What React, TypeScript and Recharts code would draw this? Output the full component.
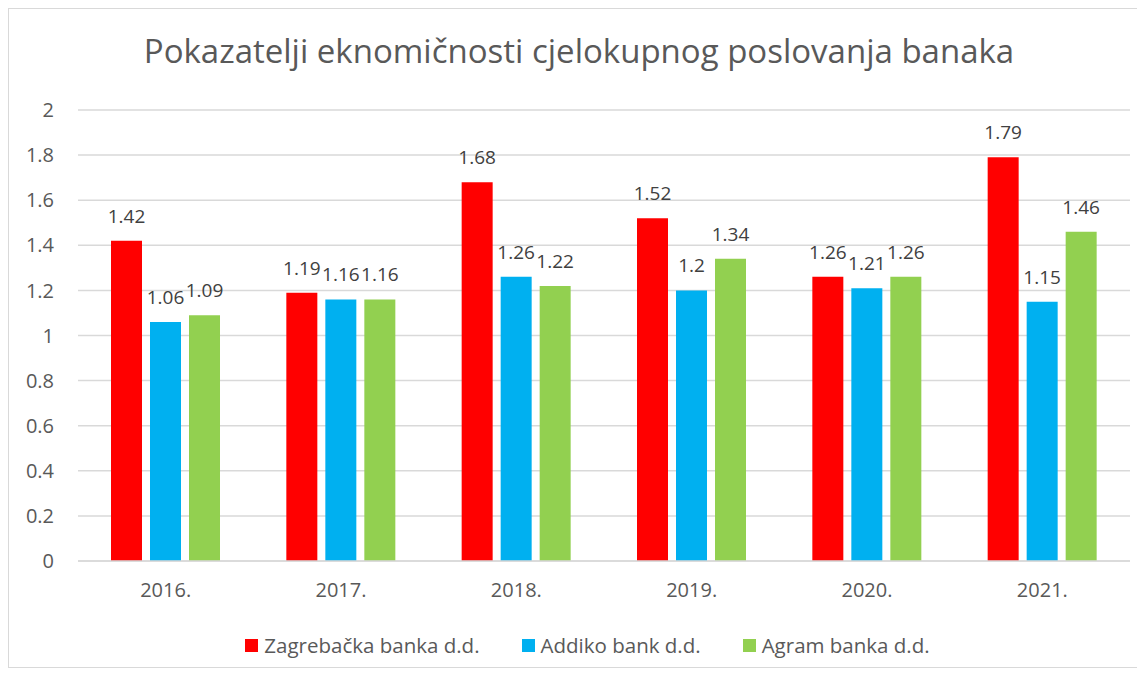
import React from "react";
import {
  BarChart,
  Bar,
  XAxis,
  YAxis,
  CartesianGrid,
  Legend,
  LabelList,
} from "recharts";

const YEARS = ["2016.", "2017.", "2018.", "2019.", "2020.", "2021."];
const ZAGREBACKA = [1.42, 1.19, 1.68, 1.52, 1.26, 1.79];
const ADDIKO = [1.06, 1.16, 1.26, 1.2, 1.21, 1.15];
const AGRAM = [1.09, 1.16, 1.22, 1.34, 1.26, 1.46];
const Y_TICKS = [0, 0.2, 0.4, 0.6, 0.8, 1, 1.2, 1.4, 1.6, 1.8, 2];

const SERIES = [
  { key: "zaba", name: "Zagrebačka banka d.d.", color: "#FF0000" },
  { key: "addiko", name: "Addiko bank d.d.", color: "#00B0F0" },
  { key: "agram", name: "Agram banka d.d.", color: "#92D050" },
];

const data = YEARS.map((year, i) => ({
  year,
  zaba: ZAGREBACKA[i],
  addiko: ADDIKO[i],
  agram: AGRAM[i],
}));

const FONT = '"Open Sans", sans-serif';
const TEXT = "#595959";

const LegendBox = () => (
  <div
    style={{
      display: "flex",
      justifyContent: "center",
      alignItems: "center",
      height: 30,
      paddingLeft: 36,
      fontFamily: FONT,
      fontSize: 20.5,
      color: TEXT,
    }}
  >
    {SERIES.map((s, i) => (
      <div
        key={s.key}
        style={{
          display: "flex",
          alignItems: "center",
          marginLeft: i === 0 ? 0 : 42,
        }}
      >
        <span
          style={{
            width: 13,
            height: 13,
            background: s.color,
            marginRight: 6,
            display: "inline-block",
          }}
        />
        <span>{s.name}</span>
      </div>
    ))}
  </div>
);

export default function App() {
  return (
    <div
      style={{
        position: "relative",
        width: 1128,
        height: 658,
        border: "1px solid #d9d9d9",
        background: "#fff",
        fontFamily: FONT,
      }}
    >
      <div
        style={{
          position: "absolute",
          top: 25,
          left: 6,
          width: "100%",
          textAlign: "center",
          fontSize: 33,
          lineHeight: "33px",
          color: TEXT,
        }}
      >
        Pokazatelji eknomičnosti cjelokupnog poslovanja banaka
      </div>
      <BarChart
        width={1128}
        height={658}
        data={data}
        margin={{ top: 101, right: 7, bottom: 7, left: 0 }}
        barSize={31}
        barGap={8}
      >
        <CartesianGrid vertical={false} stroke="#d9d9d9" strokeWidth={1.5} />
        <XAxis
          dataKey="year"
          height={69}
          tickLine={false}
          tickSize={0}
          tickMargin={22}
          axisLine={{ stroke: "#d9d9d9", strokeWidth: 1.5 }}
          tick={{ fill: TEXT, fontSize: 20, fontFamily: FONT }}
        />
        <YAxis
          width={69}
          domain={[0, 2]}
          ticks={Y_TICKS}
          axisLine={false}
          tickLine={false}
          tickSize={0}
          tickMargin={24}
          tick={{ fill: TEXT, fontSize: 20, fontFamily: FONT }}
          tickFormatter={(v) => String(Number(v.toFixed(1)))}
        />
        <Legend verticalAlign="bottom" content={() => <LegendBox />} />
        {SERIES.map((s) => (
          <Bar
            key={s.key}
            dataKey={s.key}
            name={s.name}
            fill={s.color}
            isAnimationActive={false}
          >
            <LabelList
              dataKey={s.key}
              position="top"
              offset={18}
              fill="#404040"
              fontSize={19}
              fontFamily={FONT}
            />
          </Bar>
        ))}
      </BarChart>
    </div>
  );
}
